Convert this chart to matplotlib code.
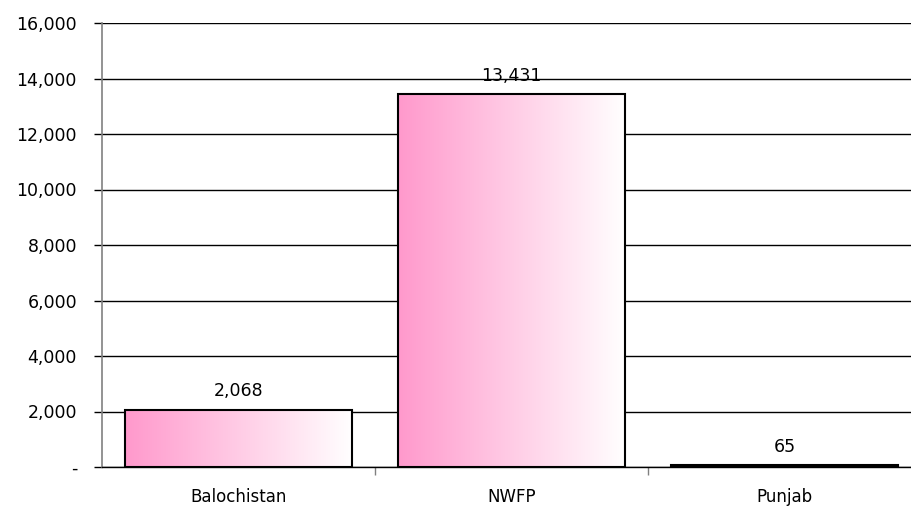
import numpy as np
import matplotlib.pyplot as plt
from matplotlib.colors import LinearSegmentedColormap
from matplotlib.ticker import FuncFormatter

# Data
regions = ["Balochistan", "NWFP", "Punjab"]
values = [2068, 13431, 65]
yticks = [0, 2000, 4000, 6000, 8000, 10000, 12000, 14000, 16000]

fig = plt.figure(figsize=(9.11, 5.08), dpi=100)
ax = fig.add_axes([102 / 911, 41 / 508, 819 / 911, 444 / 508])

x = np.arange(len(regions))
bars = ax.bar(x, values, width=0.835, color="none", edgecolor="black", linewidth=1.5, zorder=3)

# horizontal pink -> white gradient inside each bar
cmap = LinearSegmentedColormap.from_list("pinkwhite", ["#ff99cc", "#ffffff"])
grad = np.linspace(0, 1, 256).reshape(1, -1)
for b in bars:
    x0, y0, w, h = b.get_x(), b.get_y(), b.get_width(), b.get_height()
    im = ax.imshow(grad, cmap=cmap, aspect="auto", extent=[x0, x0 + w, y0, y0 + h], zorder=2)
    im.set_clip_path(b)

for xi, v in zip(x, values):
    ax.text(xi, v + 330, f"{v:,}", ha="center", va="bottom", fontsize=12.5)

ax.set_xlim(-0.5, 2.5)
ax.set_ylim(0, 16000)
ax.set_yticks(yticks)
ax.yaxis.set_major_formatter(FuncFormatter(lambda v, p: "-" if v == 0 else f"{int(v):,}"))
ax.grid(axis="y", color="black", linewidth=1, zorder=1)
ax.tick_params(axis="y", length=6, width=1, color="black", labelsize=12.5, pad=12)

ax.set_xticks(x)
ax.set_xticklabels(regions, fontsize=12)
ax.set_xticks([0.5, 1.5], minor=True)
ax.tick_params(axis="x", which="major", length=0, pad=15)
ax.tick_params(axis="x", which="minor", length=6, width=1, color="#808080")

for s in ["top", "right"]:
    ax.spines[s].set_visible(False)
ax.spines["left"].set_color("#808080")
ax.spines["left"].set_linewidth(1.2)
ax.spines["bottom"].set_color("black")
ax.spines["bottom"].set_linewidth(1)

fig.savefig("out.png", dpi=100)
